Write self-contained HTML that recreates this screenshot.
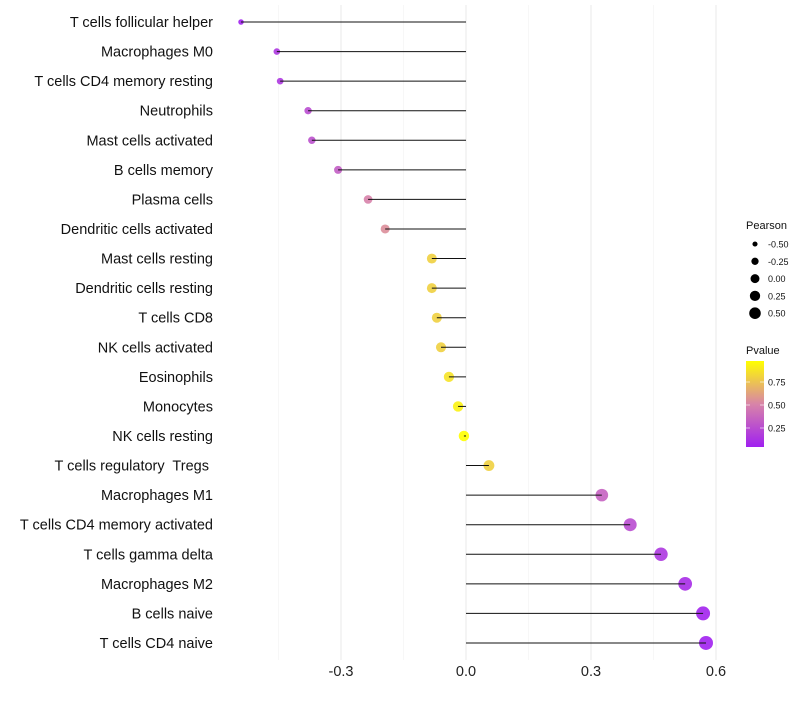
<!DOCTYPE html>
<html><head><meta charset="utf-8"><style>
body{margin:0;background:#fff;font-family:"Liberation Sans",sans-serif;}
text{white-space:pre;}
</style></head><body>
<svg id="chart" width="800" height="700" xmlns="http://www.w3.org/2000/svg"></svg>
<script>
const categories=["T cells follicular helper","Macrophages M0","T cells CD4 memory resting","Neutrophils","Mast cells activated","B cells memory","Plasma cells","Dendritic cells activated","Mast cells resting","Dendritic cells resting","T cells CD8","NK cells activated","Eosinophils","Monocytes","NK cells resting","T cells regulatory  Tregs ","Macrophages M1","T cells CD4 memory activated","T cells gamma delta","Macrophages M2","B cells naive","T cells CD4 naive"];
const pearson=[-0.54,-0.454,-0.446,-0.379,-0.37,-0.307,-0.235,-0.194,-0.082,-0.082,-0.07,-0.06,-0.041,-0.019,-0.005,0.055,0.326,0.394,0.468,0.526,0.569,0.576];
const pvalue=[0.05,0.15,0.15,0.25,0.27,0.33,0.5,0.55,0.8,0.8,0.8,0.8,0.87,0.93,0.98,0.8,0.35,0.25,0.15,0.1,0.06,0.05];
const xTicks=[-0.3,0,0.3,0.6];
const xTickLabels=["-0.3","0.0","0.3","0.6"];
const sizeLegend=[-0.5,-0.25,0,0.25,0.5];
const sizeLegendLabels=["-0.50","-0.25","0.00","0.25","0.50"];
const pTicks=[0.75,0.5,0.25];

const NS="http://www.w3.org/2000/svg";
const svg=document.getElementById('chart');
const x=v=>466+v*416.67;
const y=i=>22+i*29.57;
const rad=p=>Math.sqrt(Math.max(3,27.6+37.1*p));
function lerp(a,b,t){return a.map((v,i)=>Math.round(v+(b[i]-v)*t));}
function col(p){
  const t=Math.max(0,Math.min(1,(p-0.043)/(0.978-0.043)));
  const c0=[160,32,240],c1=[216,132,168],c2=[255,255,0];
  const c=t<0.5?lerp(c0,c1,t*2):lerp(c1,c2,(t-0.5)*2);
  return `rgb(${c[0]},${c[1]},${c[2]})`;
}
function el(tag,attrs,text){const e=document.createElementNS(NS,tag);for(const k in attrs)e.setAttribute(k,attrs[k]);if(text!==undefined)e.textContent=text;svg.appendChild(e);return e;}

[-0.45,-0.15,0.15,0.45].forEach(v=>{const g=el('line',{x1:x(v),x2:x(v),y1:5,y2:660,stroke:'#f2f2f2','stroke-width':0.6});

});
xTicks.forEach((v,i)=>{const g=el('line',{x1:x(v),x2:x(v),y1:5,y2:660,stroke:'#ebebeb','stroke-width':1.1});


const t=el('text',{x:x(v),y:676,'text-anchor':'middle','font-size':14.5,fill:'#222'},xTickLabels[i]);

});

categories.forEach((c,i)=>{
  const t=el('text',{x:213,y:y(i)+5,'text-anchor':'end','font-size':14.5,fill:'#111'},c);
  
  
  const d=el('circle',{cx:x(pearson[i]),cy:y(i),r:rad(pearson[i]),fill:col(pvalue[i]),'fill-opacity':0.9});
  
  
  const l=el('line',{x1:x(0),x2:x(pearson[i]),y1:y(i),y2:y(i),stroke:'#111','stroke-width':1});
  
  
});

const lt=el('text',{x:746,y:229,'font-size':11,fill:'#111'},'Pearson');


sizeLegend.forEach((v,i)=>{
  const cy=244+i*17.3;
  const c=el('circle',{cx:755,cy:cy,r:rad(v)*0.85,fill:'#000'});
  
  
  const t=el('text',{x:768,y:cy+3.5,'font-size':9,fill:'#111'},sizeLegendLabels[i]);
  
  
});
const pt=el('text',{x:746,y:354,'font-size':11,fill:'#111'},'Pvalue');


const defs=el('defs',{});
const lg=document.createElementNS(NS,'linearGradient');
lg.setAttribute('id','pg');lg.setAttribute('x1','0');lg.setAttribute('y1','1');lg.setAttribute('x2','0');lg.setAttribute('y2','0');
[[0,'rgb(160,32,240)'],[0.5,'rgb(216,132,168)'],[1,'rgb(255,255,0)']].forEach(s=>{const st=document.createElementNS(NS,'stop');st.setAttribute('offset',s[0]);st.setAttribute('stop-color',s[1]);lg.appendChild(st);});
defs.appendChild(lg);
const bar=el('rect',{x:746,y:361,width:18,height:86,fill:'url(#pg)'});


pTicks.forEach(p=>{const yy=405-(p-0.5)*92;
  el('line',{x1:746,x2:750,y1:yy,y2:yy,stroke:'#fff','stroke-width':0.6});
  el('line',{x1:760,x2:764,y1:yy,y2:yy,stroke:'#fff','stroke-width':0.6});
  const t=el('text',{x:768,y:yy+3.5,'font-size':9,fill:'#111'},p.toFixed(2));
  
  
});
</script>
</body></html>
